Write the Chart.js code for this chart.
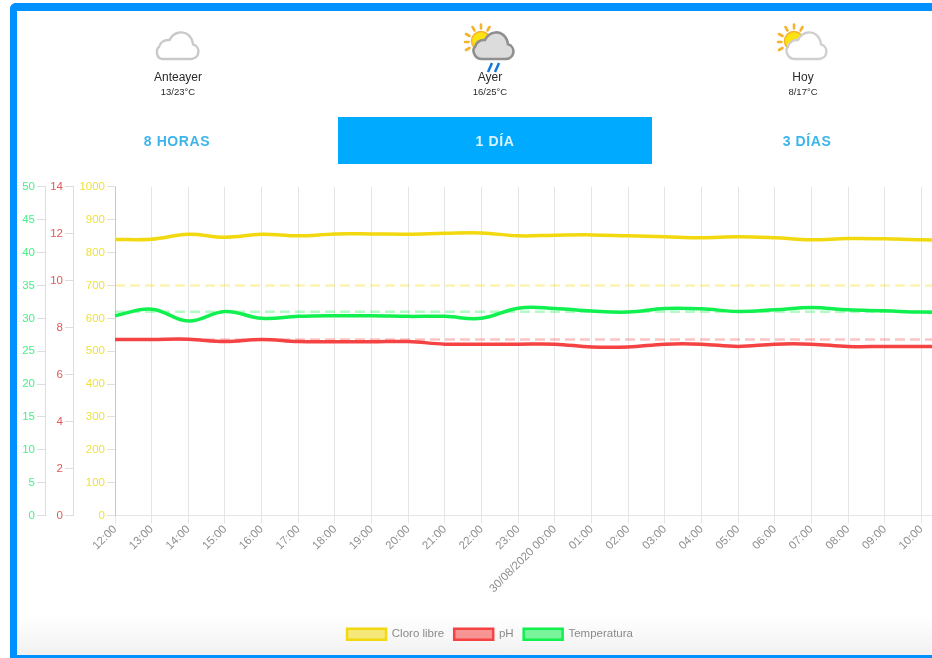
<!DOCTYPE html>
<html lang="es">
<head>
<meta charset="utf-8">
<title>Cloro libre, pH y Temperatura</title>
<script src="https://cdn.jsdelivr.net/npm/chart.js@4"></script>
<style>
html,body{margin:0;padding:0;width:932px;height:658px;overflow:hidden;background:#fff;font-family:"Liberation Sans",Arial,sans-serif}
#frame{position:absolute;left:10px;top:3px;width:940px;height:655px;box-sizing:border-box;border:solid #0090ff;border-width:8px 0 3px 7px;border-radius:6px 0 0 0;background:linear-gradient(to bottom,#fff 0,#fff 605px,#f1f1f1 644px)}
.day{position:absolute;text-align:center;width:120px;color:#2a2a2a;top:70px;filter:blur(.3px)}
.day b{display:block;font-weight:normal;font-size:12px;line-height:14px}
.day span{display:block;font-size:9.5px;line-height:12px;margin-top:2px}
svg.ic{position:absolute;top:22px;width:60px;height:50px;overflow:visible;filter:blur(.3px)}
.tab{position:absolute;top:117px;height:47px;line-height:48px;text-align:center;font-weight:bold;font-size:14px;letter-spacing:.6px;color:#3db5ea}
.tab span{filter:blur(.3px);display:inline-block}
.tab.on{background:#00aaff;color:#d9f2ff}
#wrap{position:absolute;left:17px;top:178px;width:955px;height:477px;filter:blur(.35px)}
</style>
</head>
<body>
<div id="frame"></div>

<svg class="ic" style="left:148px" viewBox="0 0 60 50">
  <path d="M15 37h28a7.5 7.5 0 0 0 2-14.7C44 14 38 9.500 31.500 10.500 26.500 11 23.500 14 21.500 18 16 17.500 12 20.500 11 25 8 27 7.500 37 15 37z" fill="#fff" stroke="#c9c9c9" stroke-width="2.4"/>
</svg>
<svg class="ic" style="left:460px" viewBox="0 0 60 50">
  <g stroke="#f7b22d" stroke-width="2.600" stroke-linecap="round"><path d="M21 2.500v4M12.500 5l2 3.500M29.500 5l-2 3.500M6 12l3.500 2M8.500 20h-3.500M6 28l3.500-2"/></g>
  <circle cx="21" cy="19" r="9.500" fill="#fbe211" stroke="#f7b22d" stroke-width="1.500"/>
  <path d="M22 37h24a7.500 7.500 0 0 0 2-14.700C47 14 41 9.500 35 10.500 30 11 27 14 25 18 20 17.500 16 20.500 15 25 12 27 13.500 37 22 37z" fill="#dcdcdc" stroke="#8f8f8f" stroke-width="2.600"/>
  <path d="M32 41l-4 9M39 41l-4 9" stroke="#1277d8" stroke-width="2.500"/>
</svg>
<svg class="ic" style="left:773px" viewBox="0 0 60 50">
  <g stroke="#f7b22d" stroke-width="2.600" stroke-linecap="round"><path d="M21 2.500v4M12.500 5l2 3.500M29.500 5l-2 3.500M6 12l3.500 2M8.500 20h-3.500M6 28l3.500-2"/></g>
  <circle cx="21" cy="19" r="9.500" fill="#fbe211" stroke="#f7b22d" stroke-width="1.500"/>
  <path d="M22 37h24a7.500 7.500 0 0 0 2-14.700C47 14 41 9.500 35 10.500 30 11 27 14 25 18 20 17.500 16 20.500 15 25 12 27 13.500 37 22 37z" fill="#fff" stroke="#cfcfcf" stroke-width="2.400"/>
</svg>

<div class="day" style="left:118px"><b>Anteayer</b><span>13/23°C</span></div>
<div class="day" style="left:430px"><b>Ayer</b><span>16/25°C</span></div>
<div class="day" style="left:743px"><b>Hoy</b><span>8/17°C</span></div>

<div class="tab" style="left:20px;width:314px"><span>8 HORAS</span></div>
<div class="tab on" style="left:338px;width:314px"><span>1 DÍA</span></div>
<div class="tab" style="left:652px;width:310px"><span>3 DÍAS</span></div>

<div id="wrap"><canvas id="c" width="955" height="477"></canvas></div>

<script>
const horas = ["12:00","13:00","14:00","15:00","16:00","17:00","18:00","19:00","20:00","21:00","22:00","23:00","30/08/2020 00:00","01:00","02:00","03:00","04:00","05:00","06:00","07:00","08:00","09:00","10:00","11:00"];
const cloroLibre = [840,841,856,847,856,851,857,857,856,859,860,851,853,854,851,848,845,848,845,839,843,842,839,838];
const ph = [7.5,7.5,7.51,7.41,7.5,7.41,7.4,7.4,7.41,7.3,7.3,7.3,7.3,7.18,7.18,7.3,7.3,7.2,7.3,7.3,7.2,7.2,7.2,7.2];
const temperatura = [30.4,31.4,29.6,31.05,30,30.3,30.4,30.4,30.3,30.3,30,31.55,31.5,31.1,30.95,31.5,31.45,31.05,31.3,31.65,31.3,31.15,30.95,30.95];
const consignaCloro = [700,700,700,700,700,700,700,700,700,700,700,700,700,700,700,700,700,700,700,700,700,700,700,700];
const consignaPh = [7.5,7.5,7.5,7.5,7.5,7.5,7.5,7.5,7.5,7.5,7.5,7.5,7.5,7.5,7.5,7.5,7.5,7.5,7.5,7.5,7.5,7.5,7.5,7.5];
const consignaTemp = [31,31,31,31,31,31,31,31,31,31,31,31,31,31,31,31,31,31,31,31,31,31,31,31];

const YEL="#f2d90f", RED="#f54343", GRN="#10f04f";
const FONT="'Liberation Sans',Arial,sans-serif";
const line=(label,data,axis,color,fill)=>({label,data,yAxisID:axis,borderColor:color,backgroundColor:fill,borderWidth:3.500,tension:.4,pointRadius:0,fill:false});
const dash=(label,data,axis,color)=>({label,data,yAxisID:axis,borderColor:color,backgroundColor:color,borderWidth:2.500,borderDash:[10,5],pointRadius:0,fill:false,tension:0});
const yAxis=(w,weight,max,step,color)=>({
  type:"linear",position:"left",weight,min:0,max,
  afterFit(s){s.width=w;},
  ticks:{stepSize:step,color,padding:2,font:{size:11.500,family:FONT},callback:(v)=>String(v)},
  grid:{drawOnChartArea:false,tickLength:8,color:"rgba(0,0,0,.13)"},
  border:{color:"rgba(0,0,0,.13)"}
});
new Chart(document.getElementById("c"),{
  type:"line",
  data:{labels:horas,datasets:[
    line("Cloro libre",cloroLibre,"cloro",YEL,"rgba(242,217,15,.55)"),
    line("pH",ph,"ph",RED,"rgba(245,67,67,.55)"),
    line("Temperatura",temperatura,"temp",GRN,"rgba(16,240,79,.55)"),
    dash("Consigna cloro",consignaCloro,"cloro","rgba(242,217,15,.32)"),
    dash("Consigna pH",consignaPh,"ph","rgba(245,67,67,.32)"),
    dash("Consigna temperatura",consignaTemp,"temp","rgba(16,240,79,.32)")
  ]},
  options:{
    responsive:false,animation:false,
    layout:{padding:{top:2,right:14,left:5,bottom:5}},
    plugins:{
      tooltip:{enabled:false},
      legend:{position:"bottom",labels:{boxWidth:39,boxHeight:11,padding:10,color:"#8a8a8a",
        font:{size:11.500,family:FONT},
        filter:(it)=>it.datasetIndex<3,
        generateLabels(chart){
          return Chart.defaults.plugins.legend.labels.generateLabels(chart).map(l=>({...l,lineWidth:2.500}));
        }}}
    },
    scales:{
      x:{
        offset:false,
        afterFit(s){s.height=103;s.paddingRight=0;s.paddingLeft=0;},
        ticks:{autoSkip:false,maxRotation:45,minRotation:45,color:"#8f8f8f",padding:-1,font:{size:11.500,family:FONT}},
        grid:{color:"rgba(0,0,0,.1)",tickLength:8},
        border:{color:"rgba(0,0,0,.1)"}
      },
      cloro:yAxis(42,0,1000,100,"#efe23a"),
      ph:yAxis(28,1,14,2,"#e05858"),
      temp:yAxis(23,2,50,5,"#45f288")
    }
  }
});
</script>
</body>
</html>
